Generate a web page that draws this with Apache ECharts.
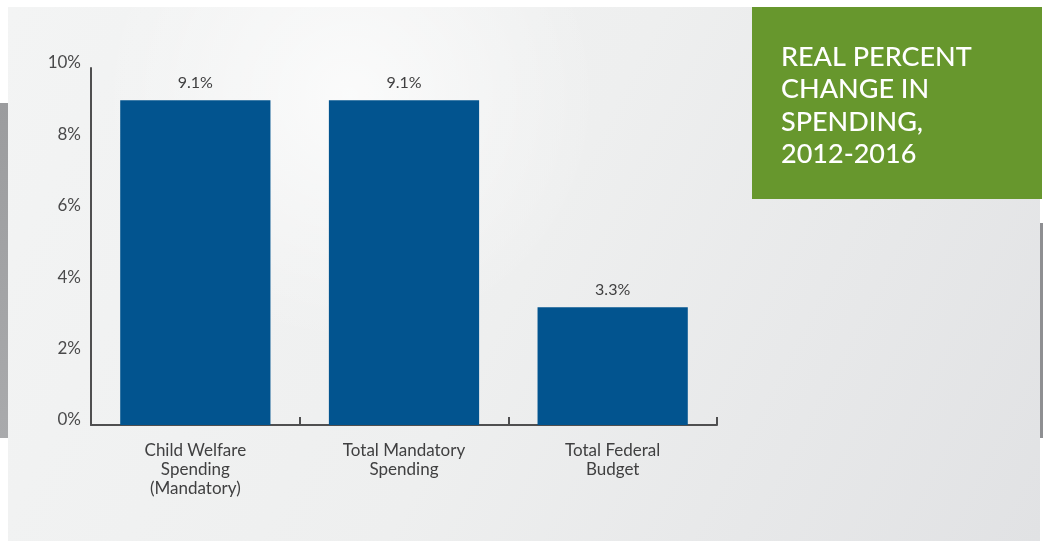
<!DOCTYPE html>
<html>
<head>
<meta charset="utf-8">
<style>
  html, body { margin: 0; padding: 0; background: #ffffff; }
  #chart { width: 1043px; height: 543px; }
</style>
<script src="https://cdn.jsdelivr.net/npm/echarts@6/dist/echarts.min.js"></script>
</head>
<body>
<div id="chart"></div>
<script>
// Real percent change in spending, 2012-2016
const categories = [
  'Child Welfare\nSpending\n(Mandatory)',
  'Total Mandatory\nSpending',
  'Total Federal\nBudget'
];
const changePct = [9.1, 9.1, 3.3];
const yTicks = [0, 2, 4, 6, 8, 10];
const titleLines = ['REAL PERCENT', 'CHANGE IN', 'SPENDING,', '2012-2016'];

const FONT = 'Lato, "Open Sans", sans-serif';
const chart = echarts.init(document.getElementById('chart'), null, { renderer: 'canvas' });

chart.setOption({
  backgroundColor: '#ffffff',
  animation: false,
  graphic: [
    // grey side strips behind the panel
    { type: 'rect', z: -10, shape: { x: 0, y: 103, width: 10, height: 335 },
      style: { fill: new echarts.graphic.LinearGradient(0, 0, 0, 1, [
        { offset: 0, color: '#9b9c9e' }, { offset: 1, color: '#a9aaac' }]) } },
    { type: 'rect', z: -10, shape: { x: 1036, y: 223, width: 7, height: 215 },
      style: { fill: '#8e8f92' } },
    // light panel
    { type: 'rect', z: -9, shape: { x: 8, y: 7, width: 1032, height: 534 },
      style: { fill: new echarts.graphic.LinearGradient(0, 0, 1, 1, [
        { offset: 0, color: '#f3f4f4' }, { offset: 0.5, color: '#eeefef' }, { offset: 1, color: '#e1e2e4' }]) } },
    { type: 'circle', z: -8, shape: { cx: 350, cy: 95, r: 250 },
      style: { fill: new echarts.graphic.RadialGradient(0.5, 0.5, 0.5, [
        { offset: 0, color: 'rgba(255,255,255,0.7)' }, { offset: 1, color: 'rgba(255,255,255,0)' }]) } },
    // title box
    { type: 'rect', z: 5, shape: { x: 752, y: 7, width: 290, height: 192 },
      style: { fill: '#67972d' } },
    { type: 'text', z: 6, x: 781, y: 41,
      style: { text: titleLines.join('\n'), fill: '#ffffff', font: '500 27px ' + FONT,
        lineHeight: 32.5, verticalAlign: 'top', align: 'left' } }
  ],
  grid: { left: 91, right: 326, top: 68, bottom: 118, containLabel: false },
  xAxis: {
    type: 'category',
    data: categories,
    axisLine: { show: true, lineStyle: { color: '#4f4f50', width: 2 } },
    axisTick: { show: true, inside: true, length: 8, alignWithLabel: false,
      lineStyle: { color: '#4f4f50', width: 2 } },
    axisLabel: { color: '#404041', fontSize: 17, fontFamily: FONT, lineHeight: 19,
      margin: 16, interval: 0 }
  },
  yAxis: {
    type: 'value',
    min: 0, max: 10, interval: 2,
    axisLine: { show: true, lineStyle: { color: '#4f4f50', width: 2 } },
    axisTick: { show: false },
    splitLine: { show: false },
    axisLabel: {
      color: '#4a4a4b', fontSize: 17, fontFamily: FONT, margin: 10,
      lineHeight: 10, verticalAlign: 'bottom',
      formatter: v => (yTicks.includes(v) ? v + '%' : '')
    }
  },
  series: [{
    type: 'bar',
    data: changePct,
    barWidth: '72%',
    itemStyle: { color: '#02548f' },
    label: {
      show: true, position: 'top', distance: 9,
      color: '#404041', fontSize: 16, fontFamily: FONT,
      formatter: p => p.value.toFixed(1) + '%'
    }
  }]
});
</script>
</body>
</html>
